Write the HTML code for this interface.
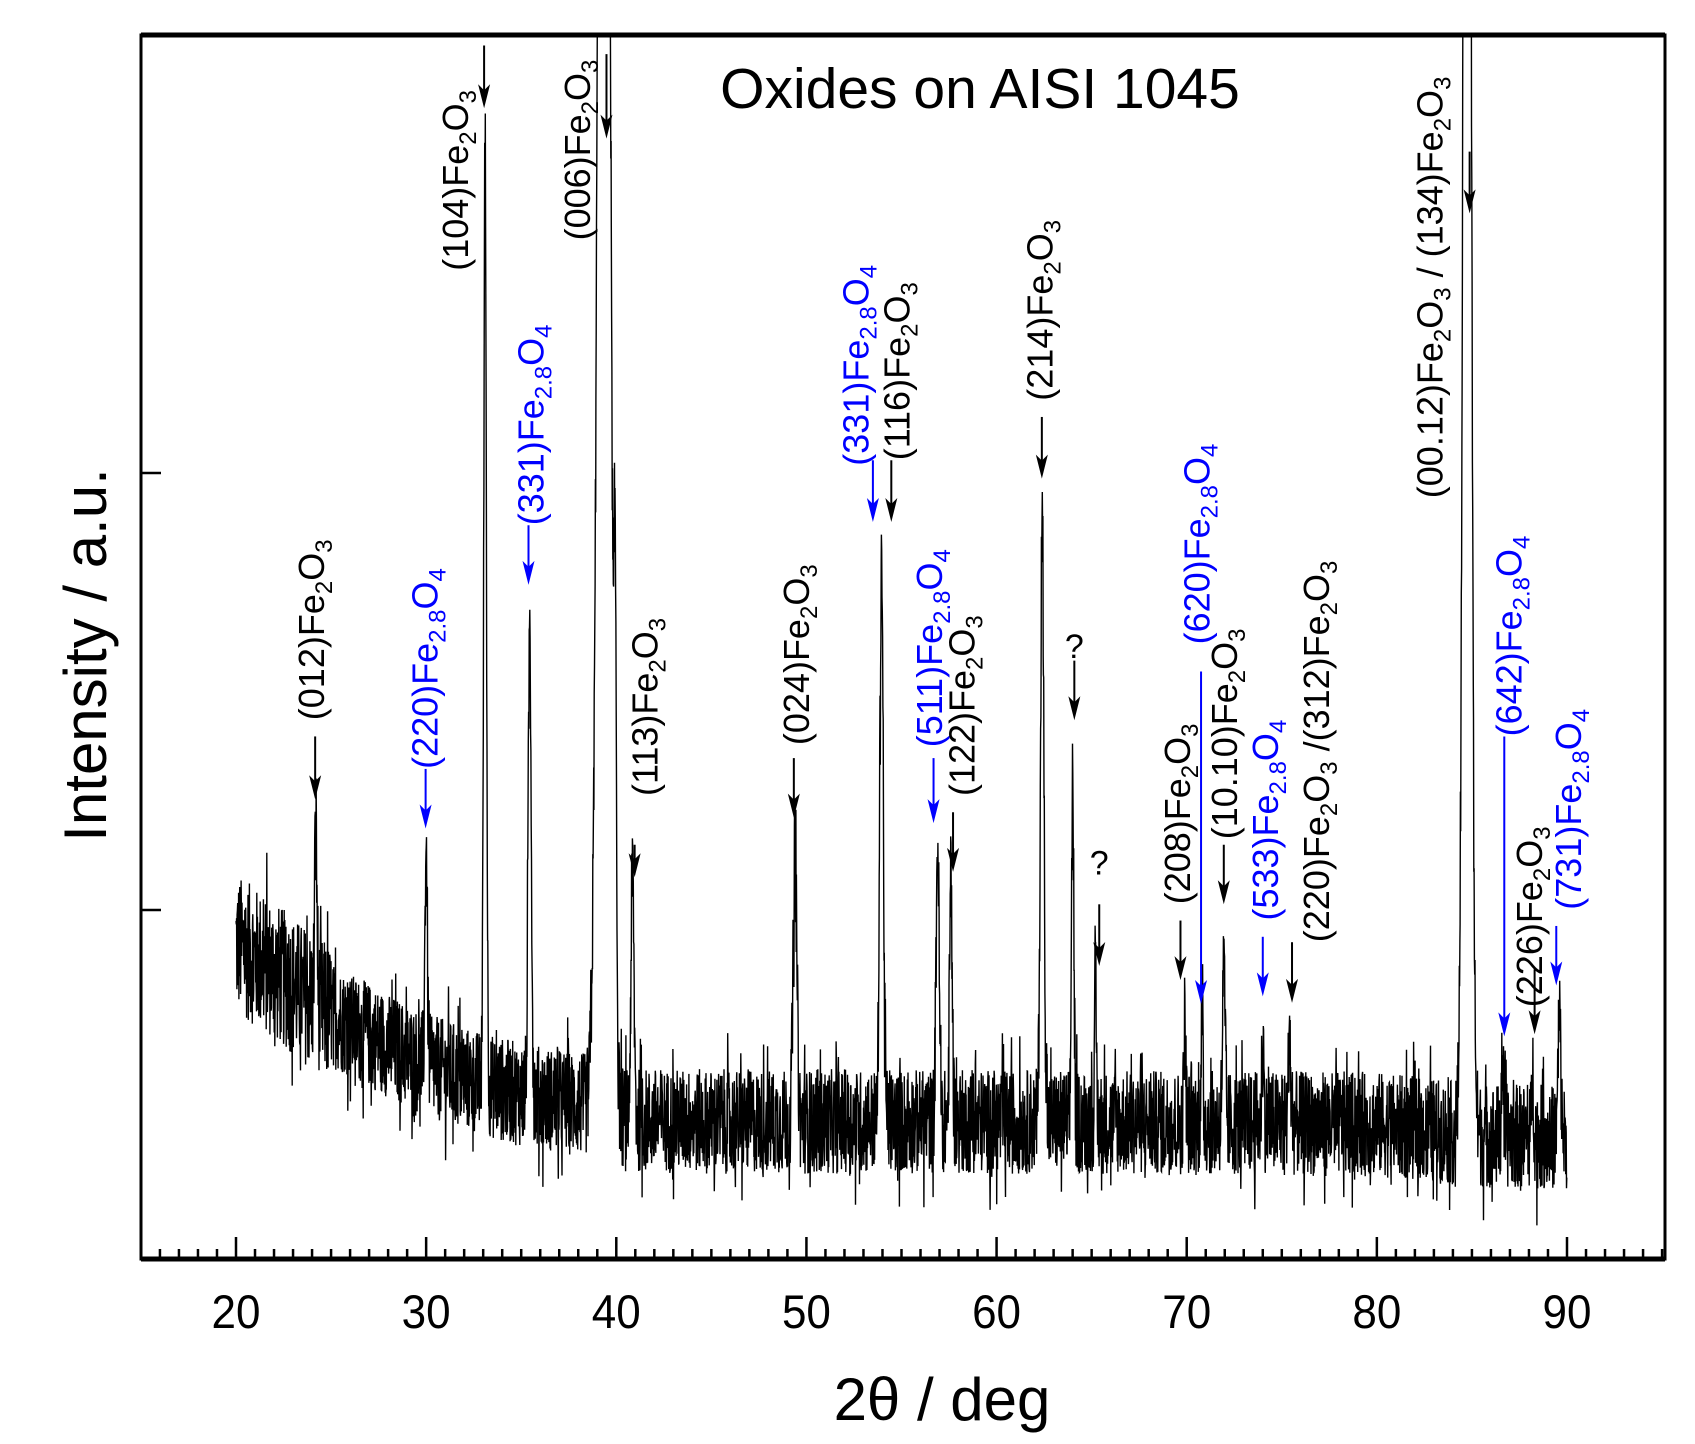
<!DOCTYPE html>
<html><head><meta charset="utf-8"><style>
html,body{margin:0;padding:0;background:#fff;}
svg{display:block;font-family:"Liberation Sans",Arial,sans-serif;}
</style></head><body>
<svg id="chart" width="1695" height="1444" viewBox="0 0 1695 1444" xmlns="http://www.w3.org/2000/svg">
<g id="plot"></g>
<g id="annot"></g>
<g id="axes"></g>
</svg>
<script>
// ---- data ----
const bgDeg = [20, 22, 25, 28, 30, 33, 35, 38, 40.5, 45, 60, 80, 85, 90];
const bgVal = [925, 860, 760, 690, 645, 600, 578, 555, 520, 516, 516, 510, 485, 480];
const peakPos = [24.2, 30.0, 33.1, 35.45, 39.35, 39.95, 40.85, 49.4, 53.95, 56.9, 57.6, 62.4, 64.0, 65.2, 69.9, 70.8, 71.95, 74.0, 75.4, 84.75, 86.6, 88.2, 89.6];
const peakHeight = [400, 520, 2150, 1080, 6000, 900, 560, 600, 1310, 640, 570, 1380, 800, 300, 240, 230, 350, 210, 240, 6000, 190, 140, 280];
const peakWidth = [0.06, 0.06, 0.07, 0.08, 0.26, 0.06, 0.08, 0.1, 0.09, 0.08, 0.07, 0.09, 0.06, 0.05, 0.05, 0.05, 0.07, 0.05, 0.05, 0.17, 0.05, 0.05, 0.07];
const xTicks = [20, 30, 40, 50, 60, 70, 80, 90];

// ---- scales ----
const L = 141, R = 1665, T = 35, B = 1259;
const xs = d => 236 + (d - 20) * (1567 - 236) / 70;
const ys = v => 910 - (v - 1000) * 437 / 1000;
const NS = "http://www.w3.org/2000/svg";
function mk(tag, attrs, parent) { const e = document.createElementNS(NS, tag); for (const k in attrs) e.setAttribute(k, attrs[k]); parent.appendChild(e); return e; }

function bg(d) {
  for (let i = 0; i < bgDeg.length - 1; i++) if (d <= bgDeg[i + 1]) { const t = (d - bgDeg[i]) / (bgDeg[i + 1] - bgDeg[i]); return bgVal[i] + t * (bgVal[i + 1] - bgVal[i]); }
  return bgVal[bgVal.length - 1];
}
// deterministic texture for detector noise
let seed = 12345;
function rnd() { seed = (seed * 1103515245 + 12345) % 2147483648; return seed / 2147483648; }

const plot = document.getElementById('plot');
const cp = mk('clipPath', {id: 'clip'}, plot);
mk('rect', {x: L, y: T, width: R - L, height: B - T}, cp);
let d = "";
for (let deg = 20; deg <= 90.001; deg += 0.015) {
  let v = bg(deg);
  for (let j = 0; j < peakPos.length; j++) { const z = (deg - peakPos[j]) / peakWidth[j]; if (Math.abs(z) < 6) v += peakHeight[j] * Math.exp(-0.5 * z * z); }
  const amp = deg < 25 ? 200 : 150;
  v += (rnd() - 0.5) * amp * 1.6 * (rnd() < 0.08 ? 1.7 : 1);
  d += (d ? "L" : "M") + xs(deg).toFixed(1) + "," + ys(v).toFixed(1);
}
const trace = mk('path', {d: d, fill: 'none', stroke: '#000', 'stroke-width': 1.4, 'clip-path': 'url(#clip)'}, plot);



// ---- axes ----
const axes = document.getElementById('axes');
const frame = mk('rect', {x: L, y: T, width: R - L, height: B - T, fill: 'none', stroke: '#000', 'stroke-width': 3}, axes);


mk('line', {x1: L, y1: T, x2: R, y2: T, stroke: '#000', 'stroke-width': 5}, axes);
mk('line', {x1: L, y1: B, x2: R, y2: B, stroke: '#000', 'stroke-width': 5}, axes);
for (let t = 15; t <= 95; t++) {
  const x = xs(t); if (x <= L + 2 || x >= R - 2) continue;
  const major = t % 10 === 0;
  mk('line', {x1: x, y1: B, x2: x, y2: B - (major ? 22 : 10), stroke: '#000', 'stroke-width': 2.5}, axes);
}
xTicks.forEach(t => {
  const lb = mk('text', {x: xs(t), y: 1328, 'text-anchor': 'middle', 'font-size': 44, transform: `translate(0,${-1328*0.08}) scale(1,1.08)`}, axes);
  lb.textContent = t;
  
  
});
[473, 910].forEach(y => mk('line', {x1: L, y1: y, x2: L + 20, y2: y, stroke: '#000', 'stroke-width': 2.5}, axes));
const xt = mk('text', {x: 942, y: 1420, 'text-anchor': 'middle', 'font-size': 60}, axes);
xt.textContent = "2θ  /  deg";


const yt = mk('text', {transform: 'translate(106,655) rotate(-90)', 'text-anchor': 'middle', 'font-size': 60}, axes);
yt.textContent = "Intensity  /  a.u.";


const tt = mk('text', {x: 980, y: 108, 'text-anchor': 'middle', 'font-size': 57}, axes);
tt.textContent = "Oxides on AISI 1045";



// ---- annotations (display coords, scaled by K) ----
const K = 1.083;
const FE2O3 = ["Fe", ["2"], "O", ["3"]], FE28O4 = ["Fe", ["2.8"], "O", ["4"]];
const ann = [
  [287, 665, ["(012)", ...FE2O3], "#000", 291, 680, 738],
  [392, 710, ["(220)", ...FE28O4], "#0000ff", 393, 710, 765],
  [420, 250, ["(104)", ...FE2O3], "#000", 447, 42, 100],
  [490, 485, ["(331)", ...FE28O4], "#0000ff", 488, 485, 540],
  [533, 222, ["(006)", ...FE2O3], "#000", 560, 50, 128],
  [595, 735, ["(113)", ...FE2O3], "#000", 586, 780, 810],
  [735, 688, ["(024)", ...FE2O3], "#000", 733, 700, 755],
  [790, 430, ["(331)", ...FE28O4], "#0000ff", 806, 425, 482],
  [828, 425, ["(116)", ...FE2O3], "#000", 823, 425, 482],
  [858, 690, ["(511)", ...FE28O4], "#0000ff", 862, 700, 760],
  [888, 735, ["(122)", ...FE2O3], "#000", 880, 750, 805],
  [960, 370, ["(214)", ...FE2O3], "#000", 962, 385, 442],
  [1087, 835, ["(208)", ...FE2O3], "#000", 1090, 850, 905],
  [1105, 595, ["(620)", ...FE28O4], "#0000ff", 1109, 620, 927],
  [1130, 775, ["(10.10)", ...FE2O3], "#000", 1130, 780, 835],
  [1168, 850, ["(533)", ...FE28O4], "#0000ff", 1166, 865, 920],
  [1215, 870, ["(220)", ...FE2O3, " /(312)", ...FE2O3], "#000", 1193, 870, 926],
  [1320, 460, ["(00.12)", ...FE2O3, " / (134)", ...FE2O3], "#000", 1357, 140, 197],
  [1393, 680, ["(642)", ...FE28O4], "#0000ff", 1389, 680, 957],
  [1412, 930, ["(226)", ...FE2O3], "#000", 1417, 895, 955],
  [1448, 840, ["(731)", ...FE28O4], "#0000ff", 1437, 855, 910]
];
const annG = document.getElementById('annot');
function arrow(x, y1, y2, col, g) {
  x *= K; y1 *= K; y2 *= K;
  mk('line', {x1: x, y1: y1, x2: x, y2: y2 - 10, stroke: col, 'stroke-width': 2}, g);
  mk('path', {d: `M${x - 6},${y2 - 24}L${x},${y2 - 18}L${x + 6},${y2 - 24}L${x},${y2}Z`, fill: col}, g);
}
ann.forEach(a => {
  const g = mk('g', {}, annG);
  
  
  const t = mk('text', {transform: `translate(${(a[0] * K + 13).toFixed(1)},${(a[1] * K).toFixed(1)}) rotate(-90)`, 'font-size': 36, fill: a[3]}, g);
  a[2].forEach(p => {
    if (Array.isArray(p)) {
      const s = mk('tspan', {'font-size': 24, dy: 8}, t); s.textContent = p[0];
      const r = mk('tspan', {dy: -8, 'font-size': 36}, t); r.textContent = "\u200b";
    } else { const s = mk('tspan', {}, t); s.textContent = p; }
  });
  arrow(a[4], a[5], a[6], a[3], g);
});
[[992, 600, 610, 665], [1015, 800, 835, 892]].forEach(q => {
  const g = mk('g', {}, annG);
  
  
  const t = mk('text', {x: q[0] * K, y: q[1] * K + 8, 'text-anchor': 'middle', 'font-size': 34}, g);
  t.textContent = "?";
  arrow(q[0], q[2], q[3], "#000", g);
});
</script>
</body></html>
